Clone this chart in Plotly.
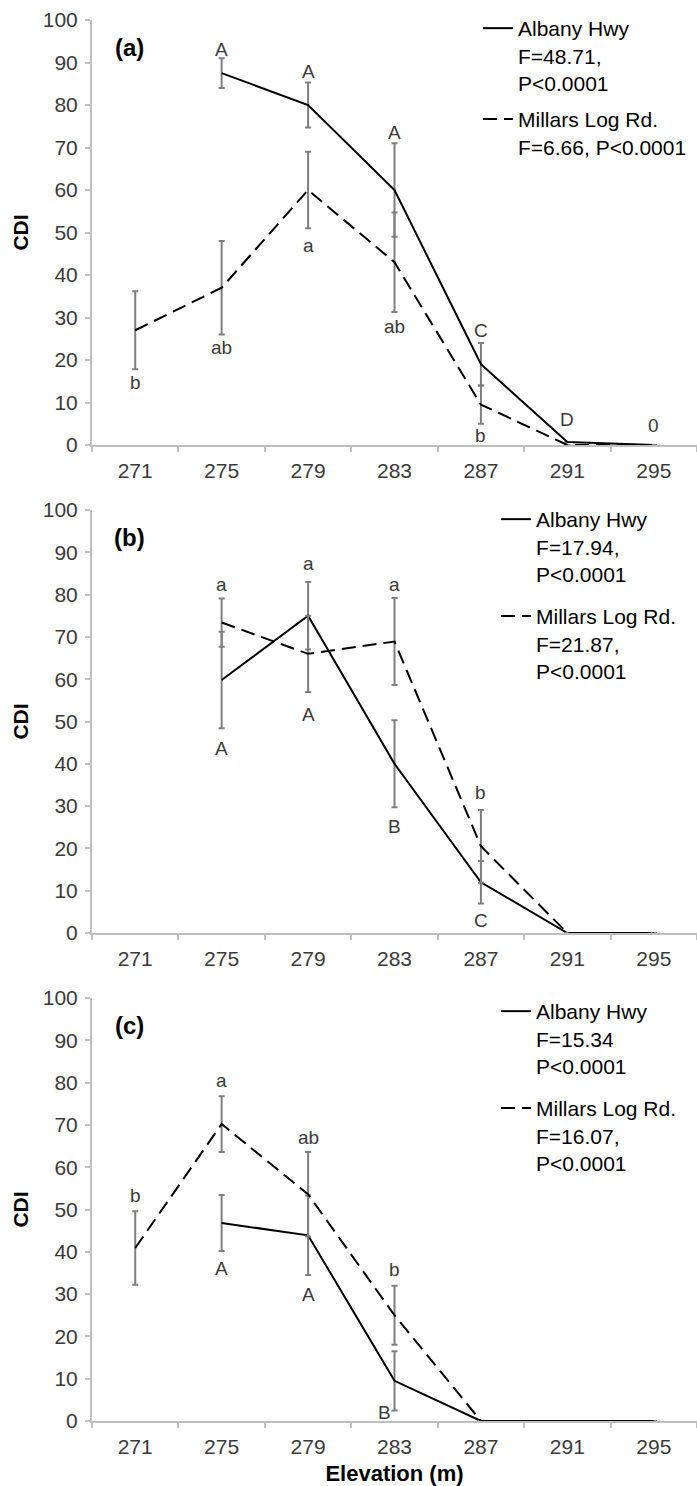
import plotly.graph_objects as go
from plotly.subplots import make_subplots

elev = ["271", "275", "279", "283", "287", "291", "295"]

# Panel (a)
a_alb = [None, 87.5, 80, 60, 19, 0.7, 0]
a_alb_err = [None, 3.5, 5.3, 11, 5, None, None]
a_mil = [27, 37, 60, 43, 9.5, 0, 0]
a_mil_err = [9.2, 11, 9, 11.7, 4.5, None, None]
a_alb_name = "Albany Hwy<br>F=48.71,<br>P<0.0001"
a_mil_name = "Millars Log Rd.<br>F=6.66, P<0.0001"
a_alb_lab = [None, "A", "A", "A", "C", "D", "0"]
a_alb_laby = [None, 93, 88, 73.5, 27, 6, 4.5]
a_mil_lab = ["b", "ab", "a", "ab", "b", None, None]
a_mil_laby = [14.7, 23, 47, 28, 2.3, None, None]

# Panel (b)
b_alb = [None, 59.8, 75, 40, 12, 0, 0]
b_alb_err = [None, 11.4, 8, 10.3, 5, None, None]
b_mil = [None, 73.4, 66, 68.9, 20.5, 0, 0]
b_mil_err = [None, 5.7, 9, 10.3, 8.6, None, None]
b_alb_name = "Albany Hwy<br>F=17.94,<br>P<0.0001"
b_mil_name = "Millars Log Rd.<br>F=21.87,<br>P<0.0001"
b_alb_lab = [None, "A", "A", "B", "C", None, None]
b_alb_laby = [None, 43.7, 51.6, 25.2, 3, None, None]
b_mil_lab = [None, "a", "a", "a", "b", None, None]
b_mil_laby = [None, 82.3, 87.4, 82.3, 33.1, None, None]

# Panel (c)
c_alb = [None, 46.8, 43.9, 9.5, 0, 0, 0]
c_alb_err = [None, 6.6, 9.4, 7, None, None, None]
c_mil = [40.9, 70.2, 53.6, 25, 0, 0, 0]
c_mil_err = [8.7, 6.6, 10, 7, None, None, None]
c_alb_name = "Albany Hwy<br>F=15.34<br>P<0.0001"
c_mil_name = "Millars Log Rd.<br>F=16.07,<br>P<0.0001"
c_alb_lab = [None, "A", "A", "B", None, None, None]
c_alb_laby = [None, 36.1, 29.8, 2, None, None, None]
c_mil_lab = ["b", "a", "ab", "b", None, None, None]
c_mil_laby = [53.2, 80.6, 67, 35.7, None, None, None]

panel_tags = ["(a)", "(b)", "(c)"]

FONT = "Arial, Liberation Sans, sans-serif"
AXIS_COL = "#bfbfbf"
TXT_COL = "#3a3a3a"
ERR_COL = "#7f7f7f"

W, H = 697, 1486
fig = make_subplots(rows=3, cols=1)

panels = [
    (a_alb, a_alb_err, a_mil, a_mil_err, a_alb_name, a_mil_name,
     a_alb_lab, a_alb_laby, a_mil_lab, a_mil_laby),
    (b_alb, b_alb_err, b_mil, b_mil_err, b_alb_name, b_mil_name,
     b_alb_lab, b_alb_laby, b_mil_lab, b_mil_laby),
    (c_alb, c_alb_err, c_mil, c_mil_err, c_alb_name, c_mil_name,
     c_alb_lab, c_alb_laby, c_mil_lab, c_mil_laby),
]
# pixel positions (top, bottom) of each plot area
ypix = [(20, 445), (510, 933), (998, 1421)]
legpix = [(478, 8), (496, 499), (496, 991)]
leggap = [6, 12, 12]
legnames = ["legend", "legend2", "legend3"]

annotations = []
for i, (alb, albe, mil, mile, an, mn, alab, alaby, mlab, mlaby) in enumerate(panels):
    r = i + 1
    leg = legnames[i]
    fig.add_trace(go.Scatter(
        x=elev, y=alb, mode="lines", name=an, legend=leg, legendgroup=f"alb{i}",
        line=dict(color="black", width=2),
        error_y=dict(type="data", array=albe, visible=True, color=ERR_COL, thickness=2, width=3),
    ), row=r, col=1)
    fig.add_trace(go.Scatter(
        x=elev, y=mil, mode="lines", name=mn, legend=leg, legendgroup=f"mil{i}",
        line=dict(color="black", width=2, dash="14px,7px"),
        error_y=dict(type="data", array=mile, visible=True, color=ERR_COL, thickness=2, width=3),
    ), row=r, col=1)
    xa = "x" if r == 1 else f"x{r}"
    ya = "y" if r == 1 else f"y{r}"
    for labs, labys in ((alab, alaby), (mlab, mlaby)):
        for k, (t, yv) in enumerate(zip(labs, labys)):
            if t is None:
                continue
            ann = dict(x=k, y=yv, xref=xa, yref=ya, text=t, showarrow=False,
                       font=dict(size=19, family=FONT, color=TXT_COL))
            if i == 2 and t == "B":
                ann["xshift"] = -10
            annotations.append(ann)
    annotations.append(dict(x=-0.07, y=93.5, xref=xa, yref=ya, text=f"<b>{panel_tags[i]}</b>",
                            showarrow=False, font=dict(size=24, family=FONT, color="black")))
    top, bot = ypix[i]
    fig.update_yaxes(
        domain=[1 - bot / H, 1 - top / H], range=[0, 100], dtick=10, tick0=0,
        showline=True, linecolor=AXIS_COL, linewidth=2, ticks="outside", ticklen=5,
        tickcolor=AXIS_COL, tickwidth=1.5, showgrid=False, zeroline=False,
        tickfont=dict(size=21, family=FONT, color=TXT_COL), ticklabelstandoff=3,
        title=dict(text="<b>CDI</b>", font=dict(size=21, family=FONT, color="black"), standoff=8),
        row=r, col=1)
    fig.update_xaxes(
        domain=[92 / W, 1], type="category", categoryorder="array", categoryarray=elev,
        range=[-0.5, 6.5], tickson="boundaries", showline=True, linecolor=AXIS_COL, linewidth=2,
        ticks="outside", ticklen=5, tickcolor=AXIS_COL, tickwidth=1.5, showgrid=False,
        tickfont=dict(size=21, family=FONT, color=TXT_COL), ticklabelstandoff=6,
        row=r, col=1)
    lx, ly = legpix[i]
    fig.update_layout(**{leg: dict(
        x=lx / W, y=1 - ly / H, xanchor="left", yanchor="top", bgcolor="rgba(0,0,0,0)",
        font=dict(size=21, family=FONT, color="black"), valign="top",
        traceorder="grouped", tracegroupgap=leggap[i], itemwidth=30,
    )})

fig.update_xaxes(title=dict(text="<b>Elevation (m)</b>", font=dict(size=22, family=FONT, color="black"),
                            standoff=12), row=3, col=1)

fig.update_layout(
    width=W, height=H, margin=dict(l=0, r=0, t=0, b=0, autoexpand=False),
    paper_bgcolor="white", plot_bgcolor="white", showlegend=True,
    annotations=annotations,
)

fig.write_html("out.html")
